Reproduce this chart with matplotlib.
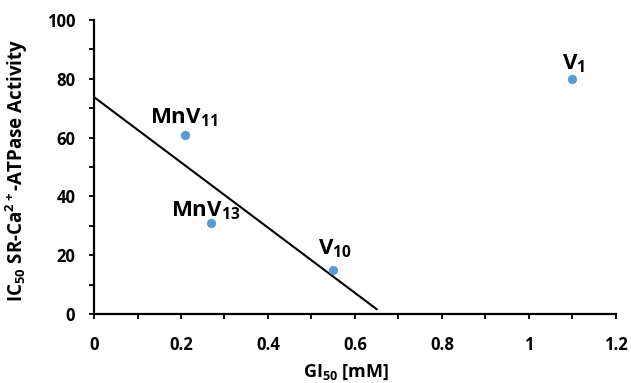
import numpy as np
import matplotlib
matplotlib.use("Agg")
import matplotlib.pyplot as plt
from matplotlib.ticker import MultipleLocator

plt.rcParams["font.family"] = ["Open Sans", "DejaVu Sans"]
plt.rcParams["mathtext.default"] = "regular"

names = ["MnV$_{11}$", "MnV$_{13}$", "V$_{10}$", "V$_{1}$"]
gi50 = [0.21, 0.27, 0.55, 1.10]
ic50 = [61, 31, 15, 80]
label_offsets = [(-1, 8), (-4, 5), (1, 11.5), (1, 7)]

# trend line through the three decavanadate-type compounds
fit_x = gi50[:3]
fit_y = ic50[:3]
trend_range = [0, 0.65]

fig = plt.figure(figsize=(6.31, 3.83), dpi=100)
ax = fig.add_axes([0.149, 0.180, 0.827, 0.768])

slope, intercept = np.polyfit(fit_x, fit_y, 1)
tx = np.array(trend_range)
ax.plot(tx, slope * tx + intercept, color="black", lw=1.5, zorder=2)

ax.scatter(gi50, ic50, s=32, color="#5B9BD5", zorder=3)
for name, x, y, off in zip(names, gi50, ic50, label_offsets):
    ax.annotate(name, (x, y), xytext=off, textcoords="offset points",
                ha="center", va="baseline", fontsize=16, fontweight="bold")

ax.set_xlim(0, 1.2)
ax.set_ylim(0, 100)
ax.xaxis.set_minor_locator(MultipleLocator(0.1))
ax.yaxis.set_major_locator(MultipleLocator(20))
ax.yaxis.set_minor_locator(MultipleLocator(10))
ax.set_xticks([0, 0.2, 0.4, 0.6, 0.8, 1.0, 1.2])
ax.set_xticklabels(["0", "0.2", "0.4", "0.6", "0.8", "1", "1.2"])

for s in ["top", "right"]:
    ax.spines[s].set_visible(False)
for s in ["left", "bottom"]:
    ax.spines[s].set_linewidth(1.6)

ax.tick_params(which="both", direction="out", length=3.5, width=1.3)
ax.tick_params(axis="x", which="major", pad=12)
ax.tick_params(axis="y", which="major", pad=10)
for lab in ax.get_xticklabels() + ax.get_yticklabels():
    lab.set_fontweight("bold")
    lab.set_fontsize(12)

ax.set_xlabel("GI$_{50}$ [mM]", fontsize=13, fontweight="bold")
ax.set_ylabel("IC$_{50}$ SR-Ca$^{2+}$-ATPase Activity", fontsize=13.5, fontweight="bold")
ax.xaxis.set_label_coords(0.483, -0.165)
ax.yaxis.set_label_coords(-0.122, 0.49)

fig.savefig("out.png", dpi=100)
